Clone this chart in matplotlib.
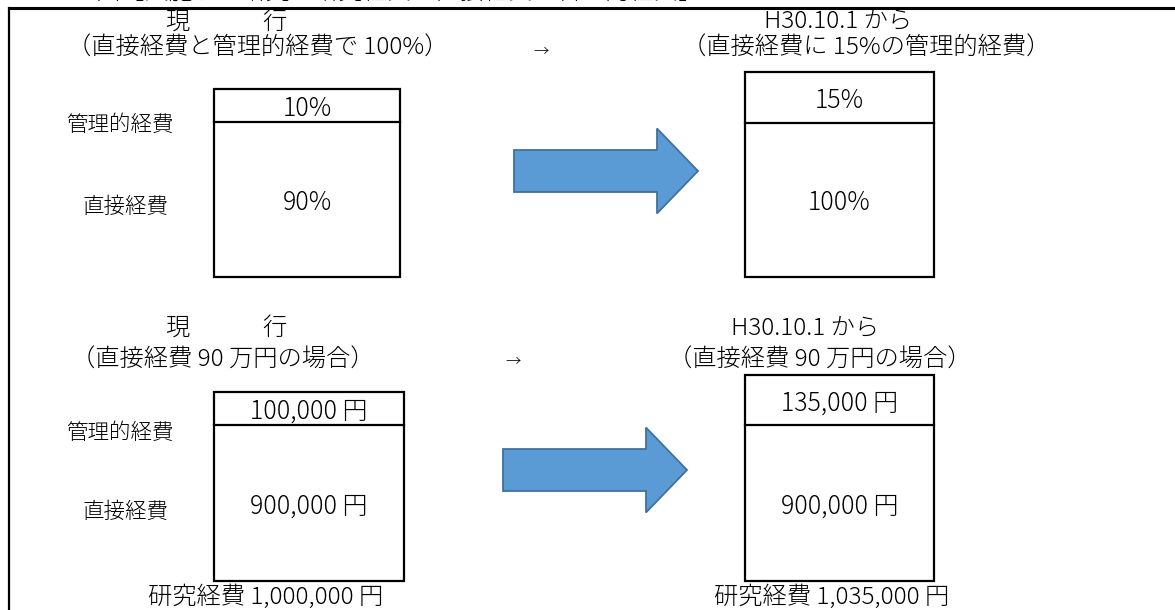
import matplotlib
matplotlib.use("Agg")
import matplotlib.pyplot as plt
from matplotlib.patches import Rectangle, Polygon

plt.rcParams['font.family'] = ['Noto Sans CJK JP', 'DejaVu Sans']
plt.rcParams['font.weight'] = 'light'

## data
row_labels = ['管理的経費', '直接経費']
pct_now = [10, 90]
pct_new = [15, 100]
yen_now = [100000, 900000]
yen_new = [135000, 900000]
totals = [1000000, 1035000]
head_now = '現　　　行'
head_new = 'H30.10.1 から'
sub_pct = ['（直接経費と管理的経費で 100%）', '（直接経費に 15%の管理的経費）']
sub_yen = ['（直接経費 90 万円の場合）', '（直接経費 90 万円の場合）']
caption = 'イメージ図【実施する研究の研究経費、直接経費、管理的経費】'

W, H = 1175, 610
fig = plt.figure(figsize=(W / 100, H / 100), dpi=100)
ax = fig.add_axes([0, 0, 1, 1])
ax.set_xlim(0, W)
ax.set_ylim(H, 0)
ax.axis('off')

fs = 17.5      # headers / subtitles
fs_box = 18    # values in the boxes
fs_lab = 15.5  # row labels
LW = 1.6


def box(x0, x1, top, div, bottom, texts):
    # two stacked cells, upper = 管理的経費, lower = 直接経費
    ax.add_patch(Rectangle((x0, top), x1 - x0, bottom - top, fill=False, lw=LW, ec='black'))
    ax.plot([x0, x1], [div, div], color='black', lw=LW)
    xc = (x0 + x1) / 2
    ax.text(xc, (top + div) / 2 + 3, texts[0], ha='center', va='center', fontsize=fs_box)
    ax.text(xc, (div + bottom) / 2 + 3, texts[1], ha='center', va='center', fontsize=fs_box)


def block_arrow(x0, x1, yc, shaft_h, head_h, head_len):
    xh = x1 - head_len
    pts = [(x0, yc - shaft_h / 2), (xh, yc - shaft_h / 2), (xh, yc - head_h / 2),
           (x1, yc), (xh, yc + head_h / 2), (xh, yc + shaft_h / 2), (x0, yc + shaft_h / 2)]
    ax.add_patch(Polygon(pts, closed=True, fc='#5B9BD5', ec='#41719C', lw=1.3))


# frame (only top and left visible)
ax.plot([9, W + 5], [8, 8], color='black', lw=2.2)
ax.plot([9, 9], [8, H + 5], color='black', lw=1.6)
ax.text(0, -8, caption, ha='left', va='center', fontsize=fs)

## upper section: percentages
ax.text(227, 22, head_now, ha='center', va='center', fontsize=fs)
ax.text(258, 48, sub_pct[0], ha='center', va='center', fontsize=fs)
ax.text(541, 52, '→', ha='center', va='center', fontsize=11)
ax.text(838, 21, head_new, ha='center', va='center', fontsize=fs)
ax.text(866, 48, sub_pct[1], ha='center', va='center', fontsize=fs)

ax.text(120, 125, row_labels[0], ha='center', va='center', fontsize=fs_lab)
ax.text(126, 207, row_labels[1], ha='center', va='center', fontsize=fs_lab)

box(214, 400, 89, 122, 277, [f'{v}%' for v in pct_now])
box(745, 934, 72, 123, 277, [f'{v}%' for v in pct_new])
block_arrow(514, 698, 171, 42, 85, 41)

## lower section: yen
ax.text(227, 328, head_now, ha='center', va='center', fontsize=fs)
ax.text(223, 360, sub_yen[0], ha='center', va='center', fontsize=fs)
ax.text(513, 362, '→', ha='center', va='center', fontsize=11)
ax.text(805, 328, head_new, ha='center', va='center', fontsize=fs)
ax.text(820, 360, sub_yen[1], ha='center', va='center', fontsize=fs)

ax.text(120, 433, row_labels[0], ha='center', va='center', fontsize=fs_lab)
ax.text(126, 512, row_labels[1], ha='center', va='center', fontsize=fs_lab)

box(214, 404, 392, 425, 581, [f'{v:,} 円' for v in yen_now])
box(745, 934, 375, 425, 581, [f'{v:,} 円' for v in yen_new])
block_arrow(503, 687, 470, 42, 85, 41)

ax.text(266, 597, f'研究経費 {totals[0]:,} 円', ha='center', va='center', fontsize=fs)
ax.text(832, 597, f'研究経費 {totals[1]:,} 円', ha='center', va='center', fontsize=fs)

fig.savefig('out.png', dpi=100)
